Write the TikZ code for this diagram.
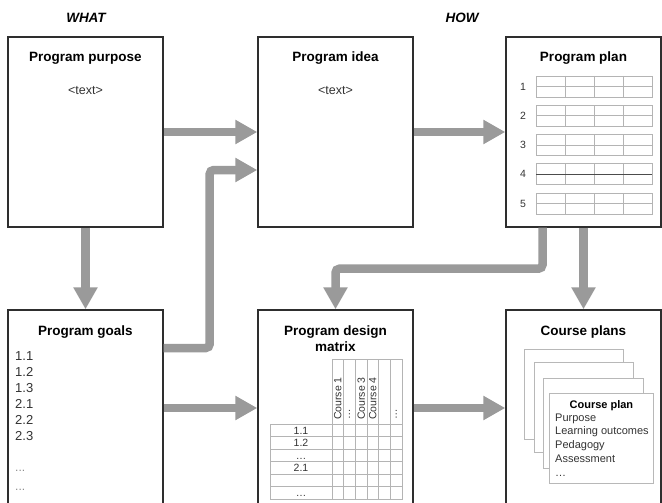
\documentclass[tikz,border=0pt]{standalone}
\usepackage{fontspec}
\setmainfont{Liberation Sans}
\usepackage{tikz}
\usetikzlibrary{arrows.meta, positioning}
\definecolor{flowgray}{HTML}{9A9A9A}
\definecolor{gridgray}{HTML}{B4B4B4}
\definecolor{boxedge}{HTML}{2E2E2E}
\definecolor{inktext}{HTML}{333333}
\tikzset{
  stagebox/.style={draw=boxedge,line width=1.4pt,fill=white,minimum width=155pt,inner sep=0pt},
  toprow/.style={stagebox,minimum height=190pt},
  lowrow/.style={stagebox,minimum height=196pt},
  stagetitle/.style={anchor=base,inner sep=0pt,align=center,font=\fontsize{13.5}{16}\selectfont\bfseries},
  colhead/.style={anchor=base,inner sep=0pt,font=\fontsize{13.5}{16}\selectfont\bfseries\itshape},
  bodytext/.style={inner sep=0pt,text=inktext,font=\fontsize{12.5}{15}\selectfont},
  listtext/.style={anchor=base west,inner sep=0pt,text=inktext,font=\fontsize{13}{16}\selectfont},
  moretext/.style={listtext,text=black!45,font=\fontsize{12}{14}\selectfont},
  smalltext/.style={inner sep=0pt,text=inktext,font=\fontsize{10.5}{12}\selectfont},
  gridline/.style={draw=gridgray,line width=0.8pt},
  sheet/.style={draw=black!28,line width=0.8pt,fill=white,inner sep=0pt,anchor=north west,minimum height=90pt},
  flowarrow/.style={-{Triangle[length=22pt,width=23pt]},line width=8.5pt,draw=flowgray,rounded corners=4pt},
}
\begin{document}
\begin{tikzpicture}[x=1pt,y=-1pt]
  \useasboundingbox (0,0) rectangle (662,503);
  \clip (0,0) rectangle (662,503);
  \node[colhead] (what) at (86,23) {WHAT};
  \node[colhead] (how) at (462,23) {HOW};

  \node[toprow] (purpose) at (85.5,132) {};
  \node[toprow] (idea) at (335.5,132) {};
  \node[toprow] (plan) at (583.5,132) {};
  \node[lowrow] (goals) at (85.5,408) {};
  \node[lowrow] (matrix) at (335.5,408) {};
  \node[lowrow] (courses) at (583.5,408) {};

  \node[stagetitle] (purposetitle) at ([yshift=-25pt]purpose.north) {Program purpose};
  \node[stagetitle] (ideatitle) at ([yshift=-25pt]idea.north) {Program idea};
  \node[stagetitle] (plantitle) at ([yshift=-25pt]plan.north) {Program plan};
  \node[stagetitle] (goalstitle) at ([yshift=-26pt]goals.north) {Program goals};
  \node[stagetitle] (matrixtitle) at ([yshift=-42pt]matrix.north) {Program design\\matrix};
  \node[stagetitle] (coursestitle) at ([yshift=-26pt]courses.north) {Course plans};

  \node[bodytext,below=22pt of purposetitle] (purposetext) {<text>};
  \node[bodytext,below=22pt of ideatitle] (ideatext) {<text>};

  % program plan rows
  \foreach \i in {1,...,5} {
    \pgfmathsetmacro\rowtop{76+29.25*(\i-1)}
    \draw[gridline] (536,\rowtop) rectangle (652,\rowtop+21);
    \draw[gridline] (536,\rowtop+10.5) -- (652,\rowtop+10.5);
    \foreach \k in {1,2,3}
      \draw[gridline] (536+29*\k,\rowtop) -- (536+29*\k,\rowtop+21);
    \node[smalltext] (planrow\i) at (523,\rowtop+10.5) {\i};
  }
  \draw[draw=black!70,line width=0.8pt] (536,174.25) -- (652,174.25);

  % goals list
  \foreach \g [count=\i] in {1.1,1.2,1.3,2.1,2.2,2.3}
    \node[listtext] (goal\i) at (15,344.5+16*\i) {\g};
  \node[moretext] (goalmore1) at (15,471) {...};
  \node[moretext] (goalmore2) at (15,490) {...};

  % design matrix
  \draw[gridline] (332,359) rectangle (402,499);
  \draw[gridline] (270,424) rectangle (402,499);
  \foreach \k in {1,...,5}
    \draw[gridline] (332+11.667*\k,359) -- (332+11.667*\k,499);
  \foreach \k in {1,...,5}
    \draw[gridline] (270,424+12.5*\k) -- (402,424+12.5*\k);
  \foreach \lab [count=\c] in {Course 1,\ldots,Course 3,Course 4,{},\ldots}
    \node[smalltext,rotate=90,anchor=west] (matcol\c) at (326.2+11.667*\c,420) {\lab};
  \foreach \lab [count=\r] in {1.1,1.2,\ldots,2.1,{},\ldots}
    \node[smalltext,anchor=base] (matrow\r) at (301,421.5+12.5*\r) {\lab};

  % course plan sheets
  \node[sheet,minimum width=99pt] (sheet1) at (524,349) {};
  \node[sheet,minimum width=99pt] (sheet2) at (534,362) {};
  \node[sheet,minimum width=100pt] (sheet3) at (543,378) {};
  \node[sheet,minimum width=104pt] (sheet4) at (549,393) {};
  \node[smalltext,anchor=base,text=black,font=\fontsize{11}{13}\selectfont\bfseries] (cptitle) at ([yshift=-15pt]sheet4.north) {Course plan};
  \foreach \cpline [count=\k] in {Purpose,Learning outcomes,Pedagogy,Assessment,\ldots}
    \node[smalltext,anchor=base west,font=\fontsize{11}{13}\selectfont] (cpline\k) at (555,407.2+13.8*\k) {\cpline};

  \draw[flowarrow] (purpose.east) -- (idea.west);
  \draw[flowarrow] (idea.east) -- (plan.west);
  \draw[flowarrow] (purpose.south) -- (goals.north);
  \draw[flowarrow] ([yshift=60pt]goals.east) -- ++(46,0) |- ([yshift=-38pt]idea.west);
  \draw[flowarrow] ([xshift=-41pt]plan.south) -- ++(0,41) -| (matrix.north);
  \draw[flowarrow] (plan.south) -- (courses.north);
  \draw[flowarrow] (goals.east) -- (matrix.west);
  \draw[flowarrow] (matrix.east) -- (courses.west);
\end{tikzpicture}
\end{document}
